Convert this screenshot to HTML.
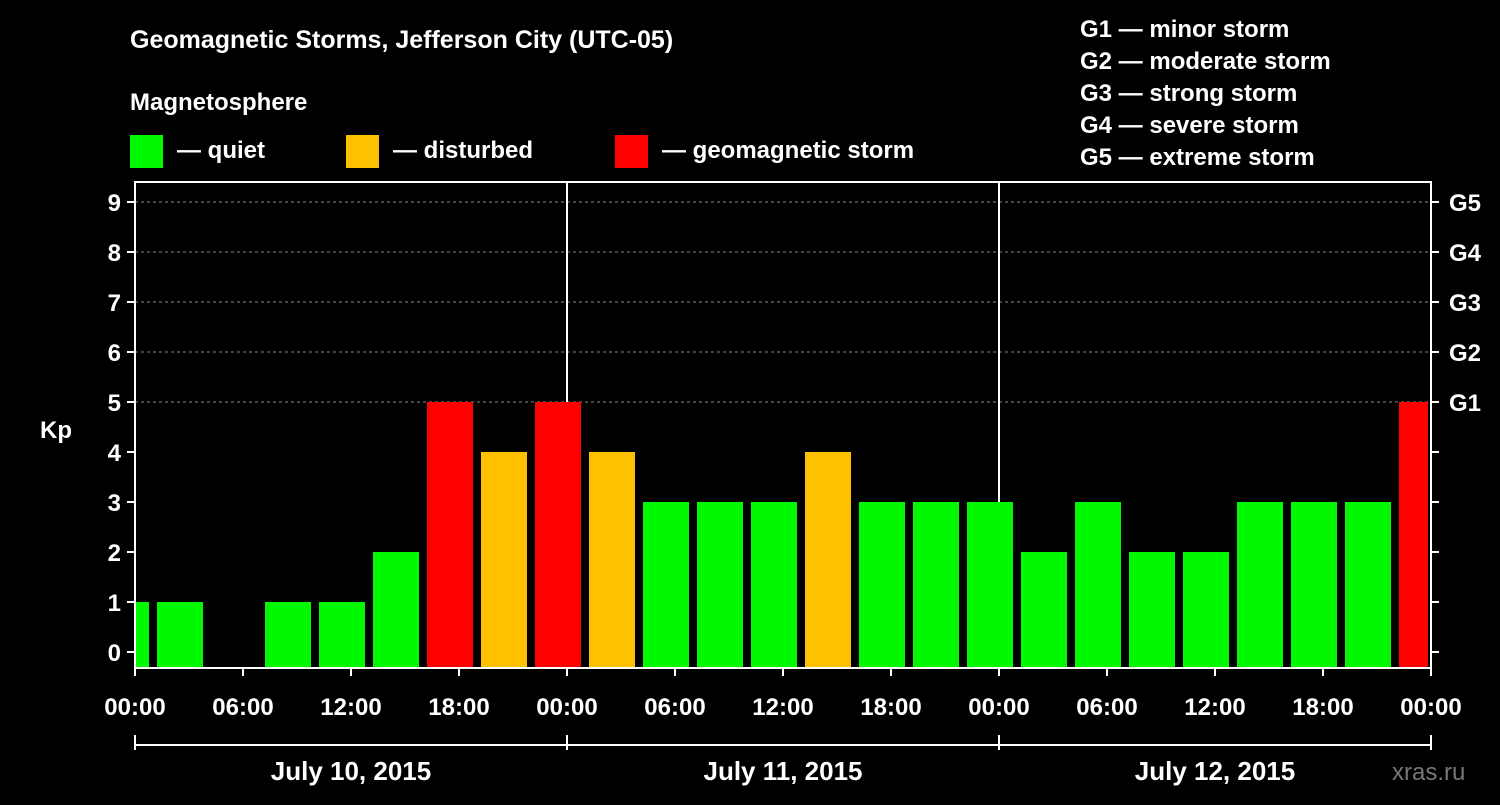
<!DOCTYPE html>
<html><head><meta charset="utf-8"><style>
body{margin:0;background:#000;}
svg text{font-family:"Liberation Sans",Arial,sans-serif;font-weight:bold;fill:#fff;}
</style></head><body>
<svg id="chart" width="1500" height="800" xmlns="http://www.w3.org/2000/svg">
<rect width="1500" height="800" fill="#000"/>
<text x="130" y="48" font-size="25">Geomagnetic Storms, Jefferson City (UTC-05)</text>
<text x="130" y="110" font-size="24">Magnetosphere</text>
<g><rect x="130" y="135" width="33" height="33" fill="#00f800"/><text x="177" y="158" font-size="24">— quiet</text></g>
<g><rect x="346" y="135" width="33" height="33" fill="#ffc000"/><text x="393" y="158" font-size="24">— disturbed</text></g>
<g><rect x="615" y="135" width="33" height="33" fill="#ff0000"/><text x="662" y="158" font-size="24">— geomagnetic storm</text></g>
<g font-size="24">
<text x="1080" y="37">G1 — minor storm</text>
<text x="1080" y="69">G2 — moderate storm</text>
<text x="1080" y="101">G3 — strong storm</text>
<text x="1080" y="133">G4 — severe storm</text>
<text x="1080" y="165">G5 — extreme storm</text>
</g>
<g id="grid"></g><g id="bars"></g><g id="axes"></g>
<text x="40" y="438" font-size="24">Kp</text>
<text x="1392" y="780" font-size="24" fill="#777" style="fill:#777;font-weight:normal">xras.ru</text>
</svg>
<script>
const kpValues=[1,1,0,1,1,2,5,4,5,4,3,3,3,4,3,3,3,2,3,2,2,3,3,3,5];
const barStartHours=[-2,1,4,7,10,13,16,19,22,25,28,31,34,37,40,43,46,49,52,55,58,61,64,67,70];
const yTicks=[0,1,2,3,4,5,6,7,8,9];
const gLabels=["G1","G2","G3","G4","G5"];
const xTickLabels=["00:00","06:00","12:00","18:00","00:00","06:00","12:00","18:00","00:00","06:00","12:00","18:00","00:00"];
const dayLabels=["July 10, 2015","July 11, 2015","July 12, 2015"];
const NS="http://www.w3.org/2000/svg";
const L=135,R=1431,T=182,B=668;
const x=h=>L+h*18;
const y=v=>652-v*50;
function mk(tag,at,par){const e=document.createElementNS(NS,tag);for(const k in at)e.setAttribute(k,at[k]);document.getElementById(par).appendChild(e);return e;}
function col(v){return v>=5?"#ff0000":v>=4?"#ffc000":"#00f800";}
kpValues.forEach((v,i)=>{if(v<=0)return;
 let x0=Math.max(L,x(barStartHours[i])+4),x1=Math.min(R-3,x(barStartHours[i]+3)-4);
 const r=mk("rect",{x:x0,y:y(v),width:x1-x0,height:B-y(v),fill:col(v)},"bars");
 
 });
[5,6,7,8,9].forEach(v=>{const l=mk("line",{x1:L,x2:R,y1:y(v),y2:y(v),stroke:"#888","stroke-dasharray":"3,3"},"grid");
 
 });
[1,2].forEach(d=>{const l=mk("line",{x1:x(d*24),x2:x(d*24),y1:T,y2:B,stroke:"#fff","stroke-width":2},"grid");
 
 });
const fr=mk("rect",{x:L,y:T,width:R-L,height:B-T,fill:"none",stroke:"#fff","stroke-width":2},"axes");


yTicks.forEach(v=>{
 mk("line",{x1:L-8,x2:L,y1:y(v),y2:y(v),stroke:"#fff","stroke-width":2},"axes");
 mk("line",{x1:R,x2:R+8,y1:y(v),y2:y(v),stroke:"#fff","stroke-width":2},"axes");
 const t=mk("text",{x:L-14,y:y(v)+9,"font-size":24,"text-anchor":"end"},"axes");t.textContent=v;
 
 });
gLabels.forEach((g,i)=>{const t=mk("text",{x:R+18,y:y(5+i)+9,"font-size":24},"axes");t.textContent=g;
 
 });
xTickLabels.forEach((s,i)=>{const xx=x(i*6);
 mk("line",{x1:xx,x2:xx,y1:B,y2:B+8,stroke:"#fff","stroke-width":2},"axes");
 const t=mk("text",{x:xx,y:715,"font-size":24,"text-anchor":"middle"},"axes");t.textContent=s;
 
 });
mk("line",{x1:L,x2:R,y1:745,y2:745,stroke:"#fff","stroke-width":2},"axes");
[0,1,2,3].forEach(d=>mk("line",{x1:x(d*24),x2:x(d*24),y1:735,y2:750,stroke:"#fff","stroke-width":2},"axes"));
dayLabels.forEach((s,i)=>{const t=mk("text",{x:x(i*24+12),y:780,"font-size":26,"text-anchor":"middle"},"axes");t.textContent=s;
 
 });
</script>
</body></html>
